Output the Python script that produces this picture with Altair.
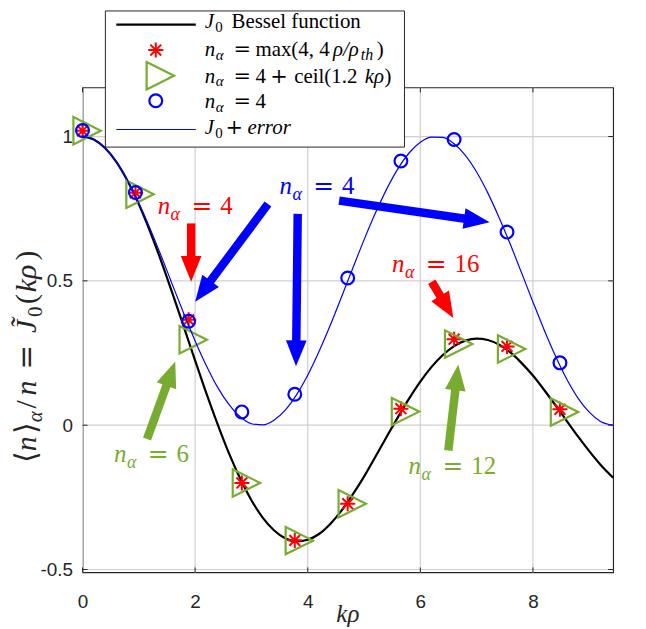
import altair as alt
import pandas as pd
import numpy as np

# ---------------- data ----------------
curve_x = [0.0, 0.2, 0.4, 0.6, 0.8, 1.0, 1.2, 1.4, 1.6, 1.8, 2.0, 2.2, 2.4, 2.6, 2.8, 3.0,
           3.2, 3.4, 3.6, 3.8, 4.0, 4.2, 4.4, 4.6, 4.8, 5.0, 5.2, 5.4, 5.6, 5.8, 6.0, 6.2,
           6.4, 6.6, 6.8, 7.0, 7.2, 7.4, 7.6, 7.8, 8.0, 8.2, 8.4, 8.6, 8.8, 9.0, 9.2, 9.425]
j0_y = [1.0, 0.990, 0.960, 0.912, 0.846, 0.765, 0.671, 0.567, 0.455, 0.340, 0.224, 0.110,
        0.003, -0.097, -0.185, -0.260, -0.320, -0.364, -0.392, -0.403, -0.397, -0.377,
        -0.342, -0.296, -0.240, -0.178, -0.110, -0.041, 0.027, 0.092, 0.151, 0.202, 0.243,
        0.274, 0.293, 0.300, 0.295, 0.279, 0.252, 0.215, 0.172, 0.122, 0.069, 0.015,
        -0.039, -0.090, -0.137, -0.182]
j0err_y = [1.0, 0.990, 0.961, 0.913, 0.848, 0.770, 0.681, 0.585, 0.485, 0.386, 0.292, 0.206,
           0.131, 0.072, 0.029, 0.005, 0.001, 0.017, 0.052, 0.105, 0.173, 0.255, 0.346,
           0.444, 0.544, 0.642, 0.734, 0.817, 0.888, 0.943, 0.980, 0.998, 0.997, 0.975,
           0.935, 0.877, 0.804, 0.719, 0.626, 0.527, 0.427, 0.330, 0.240, 0.160, 0.094,
           0.045, 0.013, 0.0]

marker_x = [0.0, 0.94, 1.885, 2.83, 3.77, 4.71, 5.655, 6.60, 7.54, 8.48]
red_y = [1.02, 0.805, 0.365, -0.20, -0.399, -0.272, 0.057, 0.298, 0.273, 0.055]
green_y = [1.02, 0.80, 0.296, -0.20, -0.40, -0.272, 0.047, 0.281, 0.264, 0.046]
blue_y = [1.021, 0.806, 0.36, 0.046, 0.107, 0.51, 0.915, 0.99, 0.669, 0.216]

x_ticks = [0, 2, 4, 6, 8]
y_ticks = [-0.5, 0, 0.5, 1]

# annotations: label anchors (data coords, left/baseline), colour, number
anno_x = [1.335, 3.499, 5.497, 5.792, 0.559]
anno_y = [0.732, 0.802, 0.531, -0.169, -0.127]
anno_num = ["4", "4", "16", "12", "6"]
anno_col = ["red", "blue", "red", "green", "green"]

# arrows: start -> tip (data coords)
arrow_x0 = [1.929, 3.293, 3.822, 4.557, 6.203, 6.497, 1.146]
arrow_y0 = [0.699, 0.766, 0.732, 0.778, 0.497, -0.088, -0.048]
arrow_x1 = [1.929, 2.000, 3.792, 7.231, 6.586, 6.674, 1.647]
arrow_y1 = [0.497, 0.428, 0.204, 0.703, 0.371, 0.210, 0.221]
arrow_col = ["red", "blue", "blue", "blue", "red", "green", "green"]

# ---------------- styling ----------------
RED, GREEN, BLUE, AX = "#ff0000", "#77ac30", "#0000ff", "#262626"
COLS = {"red": RED, "green": GREEN, "blue": BLUE}
SERIF = "Liberation Serif"
MATHS = "DejaVu Serif"
XMIN, XMAX = 0.0, 9.425
YMIN, YMAX = -0.51, 1.17
W, H = 534, 488
PXX = W / (XMAX - XMIN)
PXY = H / (YMAX - YMIN)

xs = alt.Scale(domain=[XMIN, XMAX], nice=False, zero=False)
ys = alt.Scale(domain=[YMIN, YMAX], nice=False, zero=False)

ASTER = "M-1,0L1,0M0,-1L0,1M-0.72,-0.72L0.72,0.72M-0.72,0.72L0.72,-0.72"
TRI = "M-0.6667,-1L1.3333,0L-0.6667,1Z"
HEAD = "M0,-1L0.8,1L-0.8,1Z"

curves = pd.DataFrame({"x": curve_x, "j0": j0_y, "j0e": j0err_y})
markers = pd.DataFrame({"x": marker_x, "red": red_y, "green": green_y, "blue": blue_y})

GRID = "#cfcfcf"
X_AXIS = alt.Axis(values=x_ticks, grid=False, tickSize=0, domain=False,
                  labelFont="Liberation Sans", labelFontSize=19,
                  labelColor=AX, labelPadding=20, labelFlush=False, title=None)
Y_AXIS = alt.Axis(values=y_ticks, grid=False, tickSize=0, domain=False,
                  labelFont="Liberation Sans", labelFontSize=19,
                  labelColor=AX, labelPadding=10, labelFlush=False, title=None,
                  labelExpr="replace(format(datum.value, '~g'), '\u2212', '-')")


def X(f):
    return alt.X(f, scale=xs, axis=X_AXIS)


def Y(f):
    return alt.Y(f, scale=ys, axis=Y_AXIS)


layers = []

# grid lines
gl = []
for v in x_ticks:
    gl.append((v, YMIN, v, YMAX))
for v in y_ticks:
    gl.append((XMIN, v, XMAX, v))
grid = pd.DataFrame(gl, columns=["x", "y", "x2", "y2"])
layers.append(alt.Chart(grid).mark_rule(color=GRID, strokeWidth=1.2, opacity=1).encode(
    x=X("x:Q"), y=Y("y:Q"), x2="x2:Q", y2="y2:Q"))

# inward ticks (MATLAB style)
tk = []
for v in y_ticks:
    tk.append((XMIN, v, XMIN + 5 / PXX, v))
    tk.append((XMAX - 5 / PXX, v, XMAX, v))
for v in x_ticks:
    tk.append((v, YMIN, v, YMIN + 5 / PXY))
    tk.append((v, YMAX - 5 / PXY, v, YMAX))
ticks = pd.DataFrame(tk, columns=["x", "y", "x2", "y2"])
layers.append(alt.Chart(ticks).mark_rule(color=AX, strokeWidth=1).encode(
    x=X("x:Q"), y=Y("y:Q"), x2="x2:Q", y2="y2:Q"))

# black J0 line
layers.append(alt.Chart(curves).mark_line(color="black", strokeWidth=2.2, interpolate="monotone").encode(
    x=X("x:Q"), y=Y("j0:Q")))

# markers
layers.append(alt.Chart(markers).mark_point(shape=ASTER, filled=False, color=RED, strokeWidth=2,
                                            size=230, opacity=1).encode(x=X("x:Q"), y=Y("red:Q")))
layers.append(alt.Chart(markers).mark_point(shape=TRI, filled=False, color=GREEN, strokeWidth=2.2,
                                            size=760, opacity=1).encode(x=X("x:Q"), y=Y("green:Q")))
layers.append(alt.Chart(markers).mark_point(shape="circle", filled=False, color=BLUE, strokeWidth=2.2,
                                            size=165, opacity=1).encode(x=X("x:Q"), y=Y("blue:Q")))

# blue J0 + error line
layers.append(alt.Chart(curves).mark_line(color=BLUE, strokeWidth=1.2, interpolate="monotone").encode(
    x=X("x:Q"), y=Y("j0e:Q")))

# arrows
HL = 26.0
rows_s, rows_h = [], []
for x0, y0, x1, y1, c in zip(arrow_x0, arrow_y0, arrow_x1, arrow_y1, arrow_col):
    dxp = (x1 - x0) * PXX
    dyp = -(y1 - y0) * PXY
    L = float(np.hypot(dxp, dyp))
    ux, uy = dxp / L, dyp / L
    xb = x1 - (HL - 3) * ux / PXX
    yb = y1 + (HL - 3) * uy / PXY
    xh = x1 - (HL / 2) * ux / PXX
    yh = y1 + (HL / 2) * uy / PXY
    ang = float(np.degrees(np.arctan2(ux, -uy))) % 360
    rows_s.append({"x": x0, "y": y0, "x2": xb, "y2": yb, "c": COLS[c]})
    rows_h.append({"x": xh, "y": yh, "a": ang, "c": COLS[c]})
shafts = pd.DataFrame(rows_s)
heads = pd.DataFrame(rows_h)
layers.append(alt.Chart(shafts).mark_rule(strokeWidth=8.5).encode(
    x=X("x:Q"), y=Y("y:Q"), x2="x2:Q", y2="y2:Q", color=alt.Color("c:N", scale=None)))
layers.append(alt.Chart(heads).mark_point(shape=HEAD, filled=True, size=HL * HL, opacity=1,
                                          strokeWidth=0).encode(
    x=X("x:Q"), y=Y("y:Q"), angle=alt.Angle("a:Q", scale=None), color=alt.Color("c:N", scale=None)))

# annotation labels  n_alpha = k
F = 25
ann = []
for ax_, ay_, num, c in zip(anno_x, anno_y, anno_num, anno_col):
    col = COLS[c]
    for t, dx, dy, sz, st in [("n", 0, 0, F, "i"), ("α", 13, 6, 18, "i"),
                              ("=", 34, 0, F, "m"), (num, 63, 0, F, "r")]:
        ann.append({"x": ax_ + dx / PXX, "y": ay_ - dy / PXY, "t": t, "s": sz, "c": col, "st": st})
ann = pd.DataFrame(ann)
STY = {"i": (SERIF, "italic"), "r": (SERIF, "normal"), "m": (MATHS, "normal")}
for st, (fnt, fs) in STY.items():
    layers.append(alt.Chart(ann[ann.st == st]).mark_text(
        align="left", baseline="alphabetic", font=fnt, fontStyle=fs).encode(
        x=X("x:Q"), y=Y("y:Q"),
        text="t:N", size=alt.Size("s:Q", scale=None), color=alt.Color("c:N", scale=None)))

# ---------------- legend (pixel layout) ----------------
one = pd.DataFrame({"a": [0]})
layers.append(alt.Chart(one).mark_rect(fill="white", stroke=AX, strokeWidth=1).encode(
    x=alt.value(23), x2=alt.value(324), y=alt.value(-77), y2=alt.value(60)))
layers.append(alt.Chart(one).mark_rule(color="black", strokeWidth=2.2).encode(
    x=alt.value(34), x2=alt.value(114), y=alt.value(-63.3)))
layers.append(alt.Chart(one).mark_rule(color=BLUE, strokeWidth=1.2).encode(
    x=alt.value(34), x2=alt.value(114), y=alt.value(42.3)))
layers.append(alt.Chart(one).mark_point(
    shape=ASTER, filled=False, color=RED, strokeWidth=2, size=230, opacity=1).encode(
    x=alt.value(73.7), y=alt.value(-37.7)))
layers.append(alt.Chart(one).mark_point(
    shape=TRI, filled=False, color=GREEN, strokeWidth=2.2, size=760, opacity=1).encode(
    x=alt.value(73.7), y=alt.value(-11.8)))
layers.append(alt.Chart(one).mark_point(
    shape="circle", filled=False, color=BLUE, strokeWidth=2.2, size=165, opacity=1).encode(
    x=alt.value(73.7), y=alt.value(13.3)))

LF, LS = 21, 15
leg = []


def piece(t, x, y, sz, st):
    leg.append({"px": x, "py": y, "t": t, "s": sz, "st": st})


b = -60
piece("J", 123, b, LF, "i"); piece("0", 133.5, b + 4, LS, "r"); piece("Bessel function", 150, b, LF, "r")
for b in (-32, -5, 20.7):
    piece("n", 123, b, LF, "i"); piece("α", 134, b + 4, LS, "i"); piece("=", 152, b, LF, "m")
b = -32
piece("max(4, 4", 174, b, LF, "r"); piece("ρ/ρ", 252, b, LF, "i")
piece("th", 280, b + 4, 16, "i"); piece(")", 296, b, LF, "r")
b = -5
piece("4", 174, b, LF, "r"); piece("+", 189, b, LF, "m"); piece("ceil(1.2", 213, b, LF, "r")
piece("kρ", 284, b, LF, "i"); piece(")", 304, b, LF, "r")
piece("4", 174, 20.7, LF, "r")
b = 47.3
piece("J", 123, b, LF, "i"); piece("0", 133.5, b + 4, LS, "r"); piece("+", 144, b, LF, "m")
piece("error", 166, b, LF, "i")
leg = pd.DataFrame(leg)
for st, (fnt, fs) in STY.items():
    layers.append(alt.Chart(leg[leg.st == st]).mark_text(
        align="left", baseline="alphabetic", font=fnt, color="black", fontStyle=fs).encode(
        x=alt.X("px:Q", scale=None, axis=None), y=alt.Y("py:Q", scale=None, axis=None),
        text="t:N", size=alt.Size("s:Q", scale=None)))

# ---------------- axis titles ----------------
TF, TS = 30, 21
yt_pieces = [("⟨", "r", TF, 0, 12), ("n", "i", TF, 0, 17), ("⟩", "r", TF, 0, 12),
             ("α", "i", TS, 6, 14), ("/", "r", TF, 0, 13), ("n", "i", TF, 0, 26),
             ("=", "m", TF, 0, 37), ("J̃", "i", TF, 0, 16), ("0", "r", TS, 6, 13),
             ("(", "r", TF, 0, 12), ("kρ", "i", TF, 0, 32), (")", "r", TF, 0, 12)]
ypos = 378
yt = []
for t, st, sz, sh, adv in yt_pieces:
    yt.append({"px": -47 + sh, "py": ypos, "t": t, "s": sz, "st": st})
    ypos -= adv
yt = pd.DataFrame(yt)
for st, (fnt, fs) in STY.items():
    layers.append(alt.Chart(yt[yt.st == st]).mark_text(
        align="left", baseline="alphabetic", font=fnt, color=AX, angle=270, fontStyle=fs).encode(
        x=alt.X("px:Q", scale=None, axis=None), y=alt.Y("py:Q", scale=None, axis=None),
        text="t:N", size=alt.Size("s:Q", scale=None)))

layers.append(alt.Chart(one).mark_text(
    align="center", baseline="alphabetic", font=SERIF, fontStyle="italic", fontSize=25,
    color=AX).encode(x=alt.value(267), y=alt.value(538), text=alt.value("kρ")))

chart = alt.layer(*layers).properties(
    width=W, height=H,
    autosize=alt.AutoSizeParams(type="none"),
    padding={"left": 75, "top": 78, "right": 25, "bottom": 58},
).configure_view(stroke=AX, strokeWidth=1.2)

chart.save("out.html", embed_options={"renderer": "svg", "actions": False})
